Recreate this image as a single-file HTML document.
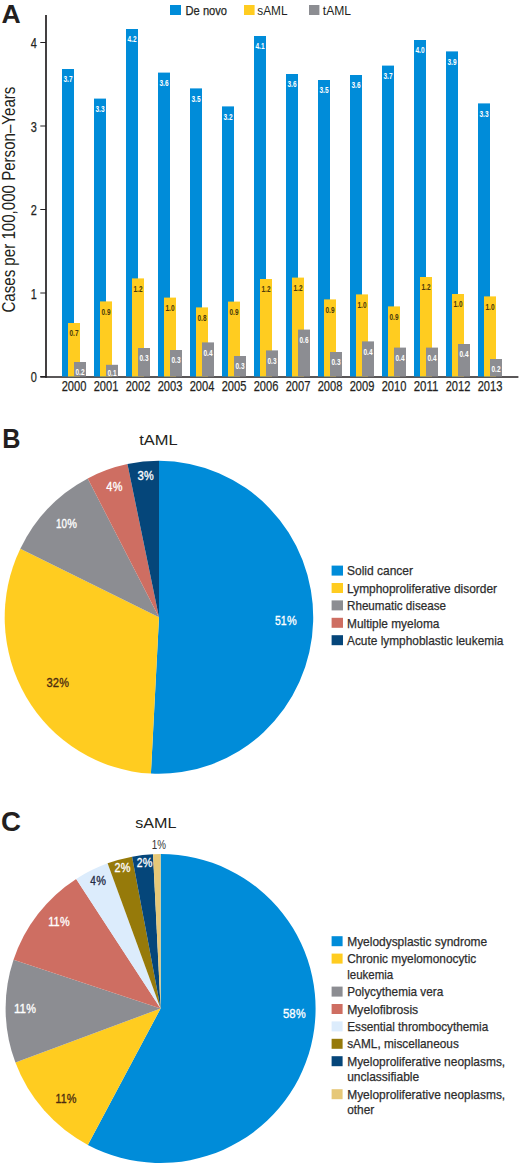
<!DOCTYPE html>
<html><head><meta charset="utf-8"><style>
html,body{margin:0;padding:0;background:#fff;}
body{width:520px;height:1166px;overflow:hidden;font-family:"Liberation Sans",sans-serif;}
svg{display:block;}
</style></head><body>
<svg width="520" height="1166" viewBox="0 0 520 1166" font-family="Liberation Sans, sans-serif"><text x="1.4" y="23.2" font-size="26.5" fill="#231f20" text-anchor="start" font-weight="bold" textLength="19.2" lengthAdjust="spacingAndGlyphs">A</text>
<rect x="170" y="5" width="11" height="10" fill="#008cd9"/>
<text x="185.6" y="14.5" font-size="13" fill="#231f20" text-anchor="start" textLength="41.4" lengthAdjust="spacingAndGlyphs" stroke="#2a2a2a" stroke-width="0.25">De novo</text>
<rect x="244" y="5" width="10.6" height="10" fill="#ffcc20"/>
<text x="257.3" y="14.5" font-size="12" fill="#231f20" text-anchor="start" textLength="30.2" lengthAdjust="spacingAndGlyphs">sAML</text>
<rect x="309" y="5" width="10.4" height="10" fill="#8c8d92"/>
<text x="322.8" y="14.5" font-size="12" fill="#231f20" text-anchor="start" textLength="28.2" lengthAdjust="spacingAndGlyphs">tAML</text>
<line x1="46" y1="15" x2="46" y2="377.7" stroke="#231f20" stroke-width="1.7"/>
<line x1="40.3" y1="377" x2="518.4" y2="377" stroke="#231f20" stroke-width="1.6"/>
<line x1="40.3" y1="376.5" x2="46" y2="376.5" stroke="#231f20" stroke-width="1"/>
<text x="33.9" y="382.1" font-size="14.8" fill="#231f20" text-anchor="middle" textLength="6.1" lengthAdjust="spacingAndGlyphs" stroke="#2a2a2a" stroke-width="0.25">0</text>
<line x1="40.3" y1="293.0" x2="46" y2="293.0" stroke="#231f20" stroke-width="1"/>
<text x="33.9" y="298.6" font-size="14.8" fill="#231f20" text-anchor="middle" textLength="6.1" lengthAdjust="spacingAndGlyphs" stroke="#2a2a2a" stroke-width="0.25">1</text>
<line x1="40.3" y1="209.5" x2="46" y2="209.5" stroke="#231f20" stroke-width="1"/>
<text x="33.9" y="215.1" font-size="14.8" fill="#231f20" text-anchor="middle" textLength="6.1" lengthAdjust="spacingAndGlyphs" stroke="#2a2a2a" stroke-width="0.25">2</text>
<line x1="40.3" y1="126.0" x2="46" y2="126.0" stroke="#231f20" stroke-width="1"/>
<text x="33.9" y="131.6" font-size="14.8" fill="#231f20" text-anchor="middle" textLength="6.1" lengthAdjust="spacingAndGlyphs" stroke="#2a2a2a" stroke-width="0.25">3</text>
<line x1="40.3" y1="42.5" x2="46" y2="42.5" stroke="#231f20" stroke-width="1"/>
<text x="33.9" y="48.1" font-size="14.8" fill="#231f20" text-anchor="middle" textLength="6.1" lengthAdjust="spacingAndGlyphs" stroke="#2a2a2a" stroke-width="0.25">4</text>
<text x="0" y="0" font-size="18" fill="#231f20" textLength="226" lengthAdjust="spacingAndGlyphs" transform="translate(14.6,312.6) rotate(-90)">Cases per 100,000 Person–Years</text>
<rect x="62" y="69" width="12" height="307.5" fill="#008cd9"/>
<text x="68" y="82.4" font-size="9.6" fill="#ffffff" text-anchor="middle" font-weight="bold" textLength="9" lengthAdjust="spacingAndGlyphs">3.7</text>
<rect x="68" y="323" width="12" height="53.5" fill="#ffcc20"/>
<text x="74" y="336.4" font-size="9.6" fill="#4a3a0a" text-anchor="middle" font-weight="bold" textLength="9" lengthAdjust="spacingAndGlyphs">0.7</text>
<rect x="74" y="362" width="12" height="14.5" fill="#8c8d92"/>
<text x="80" y="375.4" font-size="9.6" fill="#ffffff" text-anchor="middle" font-weight="bold" textLength="9" lengthAdjust="spacingAndGlyphs">0.2</text>
<text x="74" y="390.8" font-size="14.4" fill="#231f20" text-anchor="middle" textLength="24.7" lengthAdjust="spacingAndGlyphs" stroke="#2a2a2a" stroke-width="0.25">2000</text>
<rect x="94" y="98.6" width="12" height="277.9" fill="#008cd9"/>
<text x="100" y="112.0" font-size="9.6" fill="#ffffff" text-anchor="middle" font-weight="bold" textLength="9" lengthAdjust="spacingAndGlyphs">3.3</text>
<rect x="100" y="301.4" width="12" height="75.1" fill="#ffcc20"/>
<text x="106" y="314.8" font-size="9.6" fill="#4a3a0a" text-anchor="middle" font-weight="bold" textLength="9" lengthAdjust="spacingAndGlyphs">0.9</text>
<rect x="106" y="364.8" width="12" height="11.7" fill="#8c8d92"/>
<text x="112" y="376" font-size="9.6" fill="#ffffff" text-anchor="middle" font-weight="bold" textLength="9" lengthAdjust="spacingAndGlyphs">0.1</text>
<text x="106" y="390.8" font-size="14.4" fill="#231f20" text-anchor="middle" textLength="24.7" lengthAdjust="spacingAndGlyphs" stroke="#2a2a2a" stroke-width="0.25">2001</text>
<rect x="126" y="29" width="12" height="347.5" fill="#008cd9"/>
<text x="132" y="42.4" font-size="9.6" fill="#ffffff" text-anchor="middle" font-weight="bold" textLength="9" lengthAdjust="spacingAndGlyphs">4.2</text>
<rect x="132" y="278.4" width="12" height="98.1" fill="#ffcc20"/>
<text x="138" y="291.8" font-size="9.6" fill="#4a3a0a" text-anchor="middle" font-weight="bold" textLength="9" lengthAdjust="spacingAndGlyphs">1.2</text>
<rect x="138" y="348" width="12" height="28.5" fill="#8c8d92"/>
<text x="144" y="361.4" font-size="9.6" fill="#ffffff" text-anchor="middle" font-weight="bold" textLength="9" lengthAdjust="spacingAndGlyphs">0.3</text>
<text x="138" y="390.8" font-size="14.4" fill="#231f20" text-anchor="middle" textLength="24.7" lengthAdjust="spacingAndGlyphs" stroke="#2a2a2a" stroke-width="0.25">2002</text>
<rect x="158" y="72.6" width="12" height="303.9" fill="#008cd9"/>
<text x="164" y="86.0" font-size="9.6" fill="#ffffff" text-anchor="middle" font-weight="bold" textLength="9" lengthAdjust="spacingAndGlyphs">3.6</text>
<rect x="164" y="297.6" width="12" height="78.9" fill="#ffcc20"/>
<text x="170" y="311.0" font-size="9.6" fill="#4a3a0a" text-anchor="middle" font-weight="bold" textLength="9" lengthAdjust="spacingAndGlyphs">1.0</text>
<rect x="170" y="350" width="12" height="26.5" fill="#8c8d92"/>
<text x="176" y="363.4" font-size="9.6" fill="#ffffff" text-anchor="middle" font-weight="bold" textLength="9" lengthAdjust="spacingAndGlyphs">0.3</text>
<text x="170" y="390.8" font-size="14.4" fill="#231f20" text-anchor="middle" textLength="24.7" lengthAdjust="spacingAndGlyphs" stroke="#2a2a2a" stroke-width="0.25">2003</text>
<rect x="190" y="88.4" width="12" height="288.1" fill="#008cd9"/>
<text x="196" y="101.8" font-size="9.6" fill="#ffffff" text-anchor="middle" font-weight="bold" textLength="9" lengthAdjust="spacingAndGlyphs">3.5</text>
<rect x="196" y="307.4" width="12" height="69.1" fill="#ffcc20"/>
<text x="202" y="320.8" font-size="9.6" fill="#4a3a0a" text-anchor="middle" font-weight="bold" textLength="9" lengthAdjust="spacingAndGlyphs">0.8</text>
<rect x="202" y="342.4" width="12" height="34.1" fill="#8c8d92"/>
<text x="208" y="355.8" font-size="9.6" fill="#ffffff" text-anchor="middle" font-weight="bold" textLength="9" lengthAdjust="spacingAndGlyphs">0.4</text>
<text x="202" y="390.8" font-size="14.4" fill="#231f20" text-anchor="middle" textLength="24.7" lengthAdjust="spacingAndGlyphs" stroke="#2a2a2a" stroke-width="0.25">2004</text>
<rect x="222" y="106.4" width="12" height="270.1" fill="#008cd9"/>
<text x="228" y="119.8" font-size="9.6" fill="#ffffff" text-anchor="middle" font-weight="bold" textLength="9" lengthAdjust="spacingAndGlyphs">3.2</text>
<rect x="228" y="301.6" width="12" height="74.9" fill="#ffcc20"/>
<text x="234" y="315.0" font-size="9.6" fill="#4a3a0a" text-anchor="middle" font-weight="bold" textLength="9" lengthAdjust="spacingAndGlyphs">0.9</text>
<rect x="234" y="356" width="12" height="20.5" fill="#8c8d92"/>
<text x="240" y="369.4" font-size="9.6" fill="#ffffff" text-anchor="middle" font-weight="bold" textLength="9" lengthAdjust="spacingAndGlyphs">0.3</text>
<text x="234" y="390.8" font-size="14.4" fill="#231f20" text-anchor="middle" textLength="24.7" lengthAdjust="spacingAndGlyphs" stroke="#2a2a2a" stroke-width="0.25">2005</text>
<rect x="254" y="36" width="12" height="340.5" fill="#008cd9"/>
<text x="260" y="49.4" font-size="9.6" fill="#ffffff" text-anchor="middle" font-weight="bold" textLength="9" lengthAdjust="spacingAndGlyphs">4.1</text>
<rect x="260" y="279" width="12" height="97.5" fill="#ffcc20"/>
<text x="266" y="292.4" font-size="9.6" fill="#4a3a0a" text-anchor="middle" font-weight="bold" textLength="9" lengthAdjust="spacingAndGlyphs">1.2</text>
<rect x="266" y="350.4" width="12" height="26.1" fill="#8c8d92"/>
<text x="272" y="363.8" font-size="9.6" fill="#ffffff" text-anchor="middle" font-weight="bold" textLength="9" lengthAdjust="spacingAndGlyphs">0.3</text>
<text x="266" y="390.8" font-size="14.4" fill="#231f20" text-anchor="middle" textLength="24.7" lengthAdjust="spacingAndGlyphs" stroke="#2a2a2a" stroke-width="0.25">2006</text>
<rect x="286" y="74" width="12" height="302.5" fill="#008cd9"/>
<text x="292" y="87.4" font-size="9.6" fill="#ffffff" text-anchor="middle" font-weight="bold" textLength="9" lengthAdjust="spacingAndGlyphs">3.6</text>
<rect x="292" y="277.6" width="12" height="98.9" fill="#ffcc20"/>
<text x="298" y="291.0" font-size="9.6" fill="#4a3a0a" text-anchor="middle" font-weight="bold" textLength="9" lengthAdjust="spacingAndGlyphs">1.2</text>
<rect x="298" y="329.6" width="12" height="46.9" fill="#8c8d92"/>
<text x="304" y="343.0" font-size="9.6" fill="#ffffff" text-anchor="middle" font-weight="bold" textLength="9" lengthAdjust="spacingAndGlyphs">0.6</text>
<text x="298" y="390.8" font-size="14.4" fill="#231f20" text-anchor="middle" textLength="24.7" lengthAdjust="spacingAndGlyphs" stroke="#2a2a2a" stroke-width="0.25">2007</text>
<rect x="318" y="80" width="12" height="296.5" fill="#008cd9"/>
<text x="324" y="93.4" font-size="9.6" fill="#ffffff" text-anchor="middle" font-weight="bold" textLength="9" lengthAdjust="spacingAndGlyphs">3.5</text>
<rect x="324" y="299.4" width="12" height="77.1" fill="#ffcc20"/>
<text x="330" y="312.8" font-size="9.6" fill="#4a3a0a" text-anchor="middle" font-weight="bold" textLength="9" lengthAdjust="spacingAndGlyphs">0.9</text>
<rect x="330" y="352" width="12" height="24.5" fill="#8c8d92"/>
<text x="336" y="365.4" font-size="9.6" fill="#ffffff" text-anchor="middle" font-weight="bold" textLength="9" lengthAdjust="spacingAndGlyphs">0.3</text>
<text x="330" y="390.8" font-size="14.4" fill="#231f20" text-anchor="middle" textLength="24.7" lengthAdjust="spacingAndGlyphs" stroke="#2a2a2a" stroke-width="0.25">2008</text>
<rect x="350" y="75" width="12" height="301.5" fill="#008cd9"/>
<text x="356" y="88.4" font-size="9.6" fill="#ffffff" text-anchor="middle" font-weight="bold" textLength="9" lengthAdjust="spacingAndGlyphs">3.6</text>
<rect x="356" y="294.4" width="12" height="82.1" fill="#ffcc20"/>
<text x="362" y="307.8" font-size="9.6" fill="#4a3a0a" text-anchor="middle" font-weight="bold" textLength="9" lengthAdjust="spacingAndGlyphs">1.0</text>
<rect x="362" y="341.4" width="12" height="35.1" fill="#8c8d92"/>
<text x="368" y="354.8" font-size="9.6" fill="#ffffff" text-anchor="middle" font-weight="bold" textLength="9" lengthAdjust="spacingAndGlyphs">0.4</text>
<text x="362" y="390.8" font-size="14.4" fill="#231f20" text-anchor="middle" textLength="24.7" lengthAdjust="spacingAndGlyphs" stroke="#2a2a2a" stroke-width="0.25">2009</text>
<rect x="382" y="65.6" width="12" height="310.9" fill="#008cd9"/>
<text x="388" y="79.0" font-size="9.6" fill="#ffffff" text-anchor="middle" font-weight="bold" textLength="9" lengthAdjust="spacingAndGlyphs">3.7</text>
<rect x="388" y="306.4" width="12" height="70.1" fill="#ffcc20"/>
<text x="394" y="319.8" font-size="9.6" fill="#4a3a0a" text-anchor="middle" font-weight="bold" textLength="9" lengthAdjust="spacingAndGlyphs">0.9</text>
<rect x="394" y="347.6" width="12" height="28.9" fill="#8c8d92"/>
<text x="400" y="361.0" font-size="9.6" fill="#ffffff" text-anchor="middle" font-weight="bold" textLength="9" lengthAdjust="spacingAndGlyphs">0.4</text>
<text x="394" y="390.8" font-size="14.4" fill="#231f20" text-anchor="middle" textLength="24.7" lengthAdjust="spacingAndGlyphs" stroke="#2a2a2a" stroke-width="0.25">2010</text>
<rect x="414" y="40" width="12" height="336.5" fill="#008cd9"/>
<text x="420" y="53.4" font-size="9.6" fill="#ffffff" text-anchor="middle" font-weight="bold" textLength="9" lengthAdjust="spacingAndGlyphs">4.0</text>
<rect x="420" y="277" width="12" height="99.5" fill="#ffcc20"/>
<text x="426" y="290.4" font-size="9.6" fill="#4a3a0a" text-anchor="middle" font-weight="bold" textLength="9" lengthAdjust="spacingAndGlyphs">1.2</text>
<rect x="426" y="347.6" width="12" height="28.9" fill="#8c8d92"/>
<text x="432" y="361.0" font-size="9.6" fill="#ffffff" text-anchor="middle" font-weight="bold" textLength="9" lengthAdjust="spacingAndGlyphs">0.4</text>
<text x="426" y="390.8" font-size="14.4" fill="#231f20" text-anchor="middle" textLength="24.7" lengthAdjust="spacingAndGlyphs" stroke="#2a2a2a" stroke-width="0.25">2011</text>
<rect x="446" y="51.4" width="12" height="325.1" fill="#008cd9"/>
<text x="452" y="64.8" font-size="9.6" fill="#ffffff" text-anchor="middle" font-weight="bold" textLength="9" lengthAdjust="spacingAndGlyphs">3.9</text>
<rect x="452" y="294" width="12" height="82.5" fill="#ffcc20"/>
<text x="458" y="307.4" font-size="9.6" fill="#4a3a0a" text-anchor="middle" font-weight="bold" textLength="9" lengthAdjust="spacingAndGlyphs">1.0</text>
<rect x="458" y="344" width="12" height="32.5" fill="#8c8d92"/>
<text x="464" y="357.4" font-size="9.6" fill="#ffffff" text-anchor="middle" font-weight="bold" textLength="9" lengthAdjust="spacingAndGlyphs">0.4</text>
<text x="458" y="390.8" font-size="14.4" fill="#231f20" text-anchor="middle" textLength="24.7" lengthAdjust="spacingAndGlyphs" stroke="#2a2a2a" stroke-width="0.25">2012</text>
<rect x="478" y="103.4" width="12" height="273.1" fill="#008cd9"/>
<text x="484" y="116.8" font-size="9.6" fill="#ffffff" text-anchor="middle" font-weight="bold" textLength="9" lengthAdjust="spacingAndGlyphs">3.3</text>
<rect x="484" y="296.4" width="12" height="80.1" fill="#ffcc20"/>
<text x="490" y="309.8" font-size="9.6" fill="#4a3a0a" text-anchor="middle" font-weight="bold" textLength="9" lengthAdjust="spacingAndGlyphs">1.0</text>
<rect x="490" y="359" width="12" height="17.5" fill="#8c8d92"/>
<text x="496" y="372.4" font-size="9.6" fill="#ffffff" text-anchor="middle" font-weight="bold" textLength="9" lengthAdjust="spacingAndGlyphs">0.2</text>
<text x="490" y="390.8" font-size="14.4" fill="#231f20" text-anchor="middle" textLength="24.7" lengthAdjust="spacingAndGlyphs" stroke="#2a2a2a" stroke-width="0.25">2013</text>
<text x="2.2" y="447.8" font-size="27" fill="#231f20" text-anchor="start" font-weight="bold" textLength="18.2" lengthAdjust="spacingAndGlyphs">B</text>
<text x="139.3" y="445" font-size="15.5" fill="#231f20" text-anchor="start" textLength="38.4" lengthAdjust="spacingAndGlyphs">tAML</text>
<path d="M159,617.3 L159.00,460.80 A154.3,156.5 0 1 1 150.92,773.59 Z" fill="#008cd9"/>
<path d="M159,617.3 L150.92,773.59 A154.3,156.5 0 0 1 20.32,548.69 Z" fill="#ffcc20"/>
<path d="M159,617.3 L20.32,548.69 A154.3,156.5 0 0 1 87.75,478.48 Z" fill="#8c8d92"/>
<path d="M159,617.3 L87.75,478.48 A154.3,156.5 0 0 1 127.45,464.11 Z" fill="#ce6e62"/>
<path d="M159,617.3 L127.45,464.11 A154.3,156.5 0 0 1 159.00,460.80 Z" fill="#05467a"/>
<text x="275.05" y="624.8" font-size="13.6" fill="#fff" text-anchor="start" textLength="11.65" lengthAdjust="spacingAndGlyphs" stroke="#fff" stroke-width="0.35">51</text>
<text x="287.0" y="624.8" font-size="13.6" fill="#fff" text-anchor="start" textLength="9.7" lengthAdjust="spacingAndGlyphs" stroke="#fff" stroke-width="0.35">%</text>
<text x="46.55" y="686.8" font-size="13.6" fill="#4a2a10" text-anchor="start" textLength="12.45" lengthAdjust="spacingAndGlyphs" stroke="#4a2a10" stroke-width="0.35">32</text>
<text x="59.3" y="686.8" font-size="13.6" fill="#4a2a10" text-anchor="start" textLength="9.7" lengthAdjust="spacingAndGlyphs" stroke="#4a2a10" stroke-width="0.35">%</text>
<text x="56.05" y="528" font-size="13.6" fill="#fff" text-anchor="start" textLength="10.95" lengthAdjust="spacingAndGlyphs" stroke="#fff" stroke-width="0.35">10</text>
<text x="67.3" y="528" font-size="13.6" fill="#fff" text-anchor="start" textLength="9.7" lengthAdjust="spacingAndGlyphs" stroke="#fff" stroke-width="0.35">%</text>
<text x="106.35" y="491" font-size="13.6" fill="#fff" text-anchor="start" textLength="6.15" lengthAdjust="spacingAndGlyphs" stroke="#fff" stroke-width="0.35">4</text>
<text x="112.8" y="491" font-size="13.6" fill="#fff" text-anchor="start" textLength="9.7" lengthAdjust="spacingAndGlyphs" stroke="#fff" stroke-width="0.35">%</text>
<text x="137.45" y="479.8" font-size="13.6" fill="#fff" text-anchor="start" textLength="6.35" lengthAdjust="spacingAndGlyphs" stroke="#fff" stroke-width="0.35">3</text>
<text x="144.1" y="479.8" font-size="13.6" fill="#fff" text-anchor="start" textLength="9.7" lengthAdjust="spacingAndGlyphs" stroke="#fff" stroke-width="0.35">%</text>
<rect x="331.6" y="565.6" width="11.4" height="10" fill="#008cd9"/>
<text x="347" y="575.4" font-size="13" fill="#2e2e2e" text-anchor="start" textLength="66" lengthAdjust="spacingAndGlyphs" stroke="#2a2a2a" stroke-width="0.25">Solid cancer</text>
<rect x="331.6" y="583.0" width="11.4" height="10" fill="#ffcc20"/>
<text x="347" y="592.8" font-size="13" fill="#2e2e2e" text-anchor="start" textLength="150" lengthAdjust="spacingAndGlyphs" stroke="#2a2a2a" stroke-width="0.25">Lymphoproliferative disorder</text>
<rect x="331.6" y="600.4" width="11.4" height="10" fill="#8c8d92"/>
<text x="347" y="610.2" font-size="13" fill="#2e2e2e" text-anchor="start" textLength="99" lengthAdjust="spacingAndGlyphs" stroke="#2a2a2a" stroke-width="0.25">Rheumatic disease</text>
<rect x="331.6" y="617.8" width="11.4" height="10" fill="#ce6e62"/>
<text x="347" y="627.6" font-size="13" fill="#2e2e2e" text-anchor="start" textLength="92.4" lengthAdjust="spacingAndGlyphs" stroke="#2a2a2a" stroke-width="0.25">Multiple myeloma</text>
<rect x="331.6" y="635.2" width="11.4" height="10" fill="#05467a"/>
<text x="347" y="645.0" font-size="13" fill="#2e2e2e" text-anchor="start" textLength="156.4" lengthAdjust="spacingAndGlyphs" stroke="#2a2a2a" stroke-width="0.25">Acute lymphoblastic leukemia</text>
<text x="1" y="831.2" font-size="27.5" fill="#231f20" text-anchor="start" font-weight="bold" textLength="20" lengthAdjust="spacingAndGlyphs">C</text>
<text x="135.3" y="827.8" font-size="15.5" fill="#231f20" text-anchor="start" textLength="41.2" lengthAdjust="spacingAndGlyphs">sAML</text>
<path d="M160.6,1008.5 L160.60,854.00 A155,154.5 0 1 1 87.83,1144.92 Z" fill="#008cd9"/>
<path d="M160.6,1008.5 L87.83,1144.92 A155,154.5 0 0 1 15.42,1062.61 Z" fill="#ffcc20"/>
<path d="M160.6,1008.5 L15.42,1062.61 A155,154.5 0 0 1 13.52,959.73 Z" fill="#8c8d92"/>
<path d="M160.6,1008.5 L13.52,959.73 A155,154.5 0 0 1 76.18,878.93 Z" fill="#ce6e62"/>
<path d="M160.6,1008.5 L76.18,878.93 A155,154.5 0 0 1 107.59,863.32 Z" fill="#dcecfc"/>
<path d="M160.6,1008.5 L107.59,863.32 A155,154.5 0 0 1 132.09,856.64 Z" fill="#967a0a"/>
<path d="M160.6,1008.5 L132.09,856.64 A155,154.5 0 0 1 153.03,854.18 Z" fill="#05467a"/>
<path d="M160.6,1008.5 L153.03,854.18 A155,154.5 0 0 1 160.60,854.00 Z" fill="#e6c878"/>
<text x="283.05" y="1017.5" font-size="13.6" fill="#fff" text-anchor="start" textLength="12.65" lengthAdjust="spacingAndGlyphs" stroke="#fff" stroke-width="0.35">58</text>
<text x="296.0" y="1017.5" font-size="13.6" fill="#fff" text-anchor="start" textLength="9.7" lengthAdjust="spacingAndGlyphs" stroke="#fff" stroke-width="0.35">%</text>
<text x="55.55" y="1102.5" font-size="13.6" fill="#4a2a10" text-anchor="start" textLength="10.95" lengthAdjust="spacingAndGlyphs" stroke="#4a2a10" stroke-width="0.35">11</text>
<text x="66.8" y="1102.5" font-size="13.6" fill="#4a2a10" text-anchor="start" textLength="9.7" lengthAdjust="spacingAndGlyphs" stroke="#4a2a10" stroke-width="0.35">%</text>
<text x="14.05" y="1012.8" font-size="13.6" fill="#fff" text-anchor="start" textLength="11.95" lengthAdjust="spacingAndGlyphs" stroke="#fff" stroke-width="0.35">11</text>
<text x="26.3" y="1012.8" font-size="13.6" fill="#fff" text-anchor="start" textLength="9.7" lengthAdjust="spacingAndGlyphs" stroke="#fff" stroke-width="0.35">%</text>
<text x="48.35" y="925.5" font-size="13.6" fill="#fff" text-anchor="start" textLength="11.35" lengthAdjust="spacingAndGlyphs" stroke="#fff" stroke-width="0.35">11</text>
<text x="60.0" y="925.5" font-size="13.6" fill="#fff" text-anchor="start" textLength="9.7" lengthAdjust="spacingAndGlyphs" stroke="#fff" stroke-width="0.35">%</text>
<text x="90.35" y="884.6" font-size="13.6" fill="#1e2a44" text-anchor="start" textLength="5.55" lengthAdjust="spacingAndGlyphs" stroke="#1e2a44" stroke-width="0.35">4</text>
<text x="96.2" y="884.6" font-size="13.6" fill="#1e2a44" text-anchor="start" textLength="9.7" lengthAdjust="spacingAndGlyphs" stroke="#1e2a44" stroke-width="0.35">%</text>
<text x="114.55" y="872.3" font-size="13.6" fill="#fff" text-anchor="start" textLength="5.95" lengthAdjust="spacingAndGlyphs" stroke="#fff" stroke-width="0.35">2</text>
<text x="120.8" y="872.3" font-size="13.6" fill="#fff" text-anchor="start" textLength="9.7" lengthAdjust="spacingAndGlyphs" stroke="#fff" stroke-width="0.35">%</text>
<text x="136.75" y="867.2" font-size="13.6" fill="#fff" text-anchor="start" textLength="5.75" lengthAdjust="spacingAndGlyphs" stroke="#fff" stroke-width="0.35">2</text>
<text x="142.8" y="867.2" font-size="13.6" fill="#fff" text-anchor="start" textLength="9.7" lengthAdjust="spacingAndGlyphs" stroke="#fff" stroke-width="0.35">%</text>
<text x="151.8" y="848.8" font-size="13.6" fill="#333" text-anchor="start" textLength="14.2" lengthAdjust="spacingAndGlyphs">1%</text>
<rect x="331.6" y="936.2" width="11" height="10" fill="#008cd9"/>
<text x="347.2" y="945.7" font-size="13" fill="#2e2e2e" text-anchor="start" textLength="140" lengthAdjust="spacingAndGlyphs" stroke="#2a2a2a" stroke-width="0.25">Myelodysplastic syndrome</text>
<rect x="331.6" y="953.6" width="11" height="10" fill="#ffcc20"/>
<text x="347.2" y="963.1" font-size="13" fill="#2e2e2e" text-anchor="start" textLength="129" lengthAdjust="spacingAndGlyphs" stroke="#2a2a2a" stroke-width="0.25">Chronic myelomonocytic</text>
<text x="347.2" y="978.7" font-size="13" fill="#2e2e2e" text-anchor="start" textLength="46" lengthAdjust="spacingAndGlyphs" stroke="#2a2a2a" stroke-width="0.25">leukemia</text>
<rect x="331.6" y="986.6" width="11" height="10" fill="#8c8d92"/>
<text x="347.2" y="996.1" font-size="13" fill="#2e2e2e" text-anchor="start" textLength="96" lengthAdjust="spacingAndGlyphs" stroke="#2a2a2a" stroke-width="0.25">Polycythemia vera</text>
<rect x="331.6" y="1004.0" width="11" height="10" fill="#ce6e62"/>
<text x="347.2" y="1013.5" font-size="13" fill="#2e2e2e" text-anchor="start" textLength="71" lengthAdjust="spacingAndGlyphs" stroke="#2a2a2a" stroke-width="0.25">Myelofibrosis</text>
<rect x="331.6" y="1021.4" width="11" height="10" fill="#dcecfc"/>
<text x="347.2" y="1030.9" font-size="13" fill="#2e2e2e" text-anchor="start" textLength="141" lengthAdjust="spacingAndGlyphs" stroke="#2a2a2a" stroke-width="0.25">Essential thrombocythemia</text>
<rect x="331.6" y="1038.8" width="11" height="10" fill="#967a0a"/>
<text x="347.2" y="1048.3" font-size="13" fill="#2e2e2e" text-anchor="start" textLength="111.6" lengthAdjust="spacingAndGlyphs" stroke="#2a2a2a" stroke-width="0.25">sAML, miscellaneous</text>
<rect x="331.6" y="1056.2" width="11" height="10" fill="#05467a"/>
<text x="347.2" y="1065.7" font-size="13" fill="#2e2e2e" text-anchor="start" textLength="158" lengthAdjust="spacingAndGlyphs" stroke="#2a2a2a" stroke-width="0.25">Myeloproliferative neoplasms,</text>
<text x="347.2" y="1081.3" font-size="13" fill="#2e2e2e" text-anchor="start" textLength="72" lengthAdjust="spacingAndGlyphs" stroke="#2a2a2a" stroke-width="0.25">unclassifiable</text>
<rect x="331.6" y="1089.2" width="11" height="10" fill="#e6c878"/>
<text x="347.2" y="1098.7" font-size="13" fill="#2e2e2e" text-anchor="start" textLength="158" lengthAdjust="spacingAndGlyphs" stroke="#2a2a2a" stroke-width="0.25">Myeloproliferative neoplasms,</text>
<text x="347.2" y="1114.3" font-size="13" fill="#2e2e2e" text-anchor="start" textLength="27" lengthAdjust="spacingAndGlyphs" stroke="#2a2a2a" stroke-width="0.25">other</text></svg>
</body></html>
